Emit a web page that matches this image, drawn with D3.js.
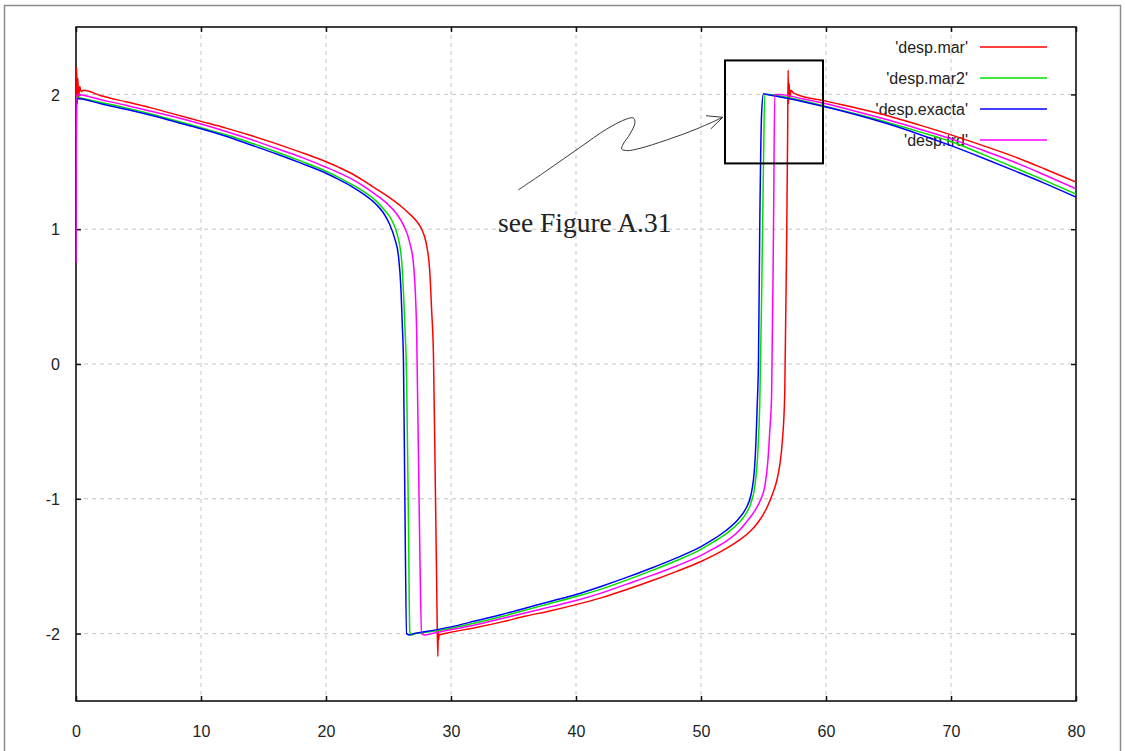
<!DOCTYPE html>
<html><head><meta charset="utf-8">
<script src="https://cdn.jsdelivr.net/npm/d3@7"></script>
<style>body{margin:0;background:#fff}svg{display:block}</style>
</head><body>
<svg id="c" width="1125" height="751"></svg>
<script>
// ---------- data ----------
const xTicks = [0, 10, 20, 30, 40, 50, 60, 70, 80];
const yTicks = [-2, -1, 0, 1, 2];
const seriesNames = ["'desp.mar'", "'desp.mar2'", "'desp.exacta'", "'desp.trd'"];
const seriesColors = ["#ff0000", "#00e000", "#0000ff", "#ff00ff"];

const despMar = [
  [0,1.95],[0.05,2.2],[0.1,1.93],[0.15,2.12],[0.2,1.97],[0.3,2.06],[0.4,2.02],[0.6,2.03],
  [2,1.99],[4,1.945],[6,1.90],[8,1.85],[10,1.80],[12,1.75],[14,1.695],[16,1.635],[18,1.57],
  [20,1.50],[21,1.46],[22,1.415],[23,1.36],[24,1.30],[25,1.24],[26,1.17],[26.6,1.12],
  [27.2,1.065],[27.6,1.01],[27.9,0.94],[28.1,0.855],[28.3,0.69],[28.45,0.40],[28.6,0.05],[28.7,-0.59],
  [28.85,-1.6],[28.9,-1.96],[28.95,-2.17],[28.97,-1.98],[29.0,-2.05],[29.05,-2.01],[30,-1.99],
  [32,-1.955],[34,-1.915],[36,-1.87],[38,-1.83],[40,-1.785],[42,-1.735],[44,-1.675],[46,-1.61],
  [48,-1.54],[50,-1.465],[51,-1.42],[52,-1.37],[53,-1.31],[53.9,-1.245],[54.6,-1.17],[55.25,-1.07],
  [55.7,-0.97],[56.05,-0.87],[56.3,-0.75],[56.5,-0.58],[56.7,-0.22],[56.85,0.9],[56.93,1.7],
  [56.97,2.18],[57.0,1.93],[57.05,2.08],[57.1,1.98],[57.2,2.03],[57.4,2.01],[60,1.95],[62.5,1.897],
  [65,1.84],[67.5,1.772],[70,1.70],[72.5,1.622],[75,1.54],[77.5,1.447],[80,1.35]
];
const despMar2 = [
  [0,1.98],[2,1.94],[4,1.90],[6,1.855],[8,1.805],[10,1.752],[12,1.70],[14,1.64],[16,1.575],
  [18,1.505],[20,1.43],[21,1.385],[22,1.335],[23,1.28],[24,1.21],[24.6,1.15],[25.3,1.06],
  [25.7,0.96],[26.05,0.77],[26.3,0.3],[26.45,-0.12],[26.6,-1.2],[26.7,-1.98],[26.8,-2.01],[27.2,-2.0],
  [28,-1.99],[30,-1.96],[32,-1.92],[34,-1.875],[36,-1.825],[38,-1.775],[40,-1.725],[42,-1.67],
  [44,-1.605],[46,-1.535],[48,-1.46],[50,-1.375],[51,-1.32],[52,-1.26],[53,-1.18],[53.6,-1.11],
  [54.0,-1.03],[54.3,-0.91],[54.55,-0.65],[54.7,-0.3],[54.85,0.5],[55.0,1.5],[55.1,2.0],[55.4,2.0],
  [57,1.975],[60,1.91],[62.5,1.852],[65,1.79],[67.5,1.722],[70,1.65],[72.5,1.557],[75,1.46],
  [77.5,1.362],[80,1.26]
];
const despExacta = [
  [0,1.10],[0.05,1.97],[2,1.93],[4,1.89],[6,1.845],[8,1.795],[10,1.745],[12,1.69],[14,1.625],
  [16,1.56],[18,1.49],[20,1.415],[21,1.37],[22,1.32],[23,1.26],[24,1.185],[24.6,1.12],[25.07,1.04],
  [25.5,0.93],[25.8,0.8],[26.0,0.55],[26.1,0.3],[26.2,0.0],[26.3,-0.92],[26.45,-2.0],[26.7,-2.01],
  [27,-2.0],[28,-1.985],[30,-1.95],[32,-1.905],[34,-1.86],[36,-1.81],[38,-1.76],[40,-1.71],
  [42,-1.65],[44,-1.585],[46,-1.515],[48,-1.44],[50,-1.355],[51,-1.30],[52,-1.235],[53,-1.15],
  [53.6,-1.07],[54.0,-0.97],[54.3,-0.75],[54.5,-0.3],[54.6,0.03],[54.7,1.015],[54.85,1.86],
  [55.0,2.005],[55.3,2.0],[57,1.97],[60,1.906],[62.5,1.847],[65,1.78],[67.5,1.703],[70,1.62],
  [72.5,1.53],[75,1.436],[77.5,1.34],[80,1.238]
];
const despTrd = [
  [0,0.75],[0.05,2.0],[2,1.96],[4,1.92],[6,1.875],[8,1.83],[10,1.78],[12,1.725],[14,1.665],
  [16,1.60],[18,1.535],[20,1.46],[21,1.42],[22,1.375],[23,1.32],[24,1.255],[25,1.18],[25.6,1.12],
  [26.2,1.03],[26.7,0.9],[27.0,0.74],[27.25,0.25],[27.5,-1.36],[27.65,-2.0],[27.9,-2.01],
  [28.5,-2.0],[30,-1.97],[32,-1.935],[34,-1.89],[36,-1.845],[38,-1.80],[40,-1.755],[42,-1.70],
  [44,-1.635],[46,-1.57],[48,-1.50],[50,-1.42],[51,-1.37],[52,-1.315],[53,-1.24],[53.65,-1.17],
  [54.3,-1.09],[54.8,-1.0],[55.1,-0.91],[55.35,-0.72],[55.5,-0.5],[55.65,-0.22],[55.8,1.0],
  [55.9,2.0],[56.3,2.0],[58,1.97],[60,1.93],[62.5,1.872],[65,1.81],[67.5,1.742],[70,1.67],
  [72.5,1.587],[75,1.50],[77.5,1.402],[80,1.30]
];
const seriesData = [despMar, despMar2, despExacta, despTrd];

// annotation (data units)
const annotationText = "see Figure A.31";
const annotationAnchor = [33.76, 0.976];
const zoomBox = {x0: 51.92, x1: 59.76, y0: 1.488, y1: 2.252};
const arrowPath = [[35.38,1.291],[37.65,1.434],[40.32,1.607],[42.46,1.743],[44.06,1.818],[44.58,1.825],
  [44.72,1.792],[44.32,1.706],[43.78,1.632],[43.66,1.595],[44.06,1.583],[45.12,1.600],[47.26,1.662],
  [49.66,1.744],[51.74,1.830]];
const arrowBarbs = [[50.40,1.842],[50.78,1.744]];

// ---------- drawing ----------
const svg = d3.select("#c");
const x = d3.scaleLinear().domain([0, 80]).range([76, 1076]);
const y = d3.scaleLinear().domain([-2.5, 2.5]).range([701, 27]);
const font = "'Liberation Sans', Arial, sans-serif";

// outer frame
svg.append("rect").attr("x", 4.5).attr("y", 5.5).attr("width", 1116).attr("height", 760)
  .attr("fill", "none").attr("stroke", "#8a8a8a").attr("stroke-width", 1.5);

// grid
svg.append("g").selectAll("line").data(xTicks.filter(d => d > 0 && d < 80)).join("line")
  .attr("x1", d => x(d)).attr("x2", d => x(d)).attr("y1", y(2.5)).attr("y2", y(-2.5))
  .attr("stroke", "#c4c4c4").attr("stroke-width", 1).attr("stroke-dasharray", "4,4");
svg.append("g").selectAll("line").data(yTicks).join("line")
  .attr("y1", d => y(d)).attr("y2", d => y(d)).attr("x1", x(0)).attr("x2", x(80))
  .attr("stroke", "#c4c4c4").attr("stroke-width", 1).attr("stroke-dasharray", "4,4");

// axes with inward ticks
const fmt = d => String(d);
const axB = d3.axisBottom(x).tickValues(xTicks).tickSize(-5).tickPadding(0).tickFormat(fmt);
const axT = d3.axisTop(x).tickValues(xTicks).tickSize(-5).tickFormat("");
const axL = d3.axisLeft(y).tickValues(yTicks).tickSize(-5).tickFormat(fmt);
const axR = d3.axisRight(y).tickValues(yTicks).tickSize(-5).tickFormat("");
function styleAxis(g) {
  g.select(".domain").remove();
  g.selectAll(".tick line").attr("stroke", "#111").attr("stroke-width", 1.5);
  g.selectAll("text").attr("fill", "#222").style("font-family", font).style("font-size", "16px");
}
const gB = svg.append("g").attr("transform", `translate(0,${y(-2.5)})`).call(axB).call(styleAxis);
gB.selectAll("text").attr("dy", null).attr("y", 36);
svg.append("g").attr("transform", `translate(0,${y(2.5)})`).call(axT).call(styleAxis);
const gL = svg.append("g").attr("transform", `translate(${x(0)},0)`).call(axL).call(styleAxis);
gL.selectAll("text").attr("x", -16).attr("dy", "0.36em");
svg.append("g").attr("transform", `translate(${x(80)},0)`).call(axR).call(styleAxis);

// plot frame
svg.append("rect").attr("x", x(0)).attr("y", y(2.5)).attr("width", x(80) - x(0)).attr("height", y(-2.5) - y(2.5))
  .attr("fill", "none").attr("stroke", "#111").attr("stroke-width", 1.6);

// legend
const leg = svg.append("g");
seriesNames.forEach((n, i) => {
  const yy = 47 + i * 31;
  leg.append("text").attr("x", 968).attr("y", yy).attr("dy", "0.35em").attr("text-anchor", "end")
    .style("font-family", font).style("font-size", "16px").attr("fill", "#222").text(n);
  leg.append("line").attr("x1", 980).attr("x2", 1047).attr("y1", yy).attr("y2", yy)
    .attr("stroke", seriesColors[i]).attr("stroke-width", 1.5);
});

// annotation
svg.append("text").attr("x", x(annotationAnchor[0])).attr("y", y(annotationAnchor[1]))
  .style("font-family", "'Liberation Serif', 'Times New Roman', serif").style("font-size", "27.5px")
  .attr("fill", "#222").text(annotationText);
const lineGen = d3.line().x(d => x(d[0])).y(d => y(d[1]));
svg.append("path").attr("d", d3.line().x(d => x(d[0])).y(d => y(d[1])).curve(d3.curveCatmullRom)(arrowPath))
  .attr("fill", "none").attr("stroke", "#222").attr("stroke-width", 0.9);
const tip = arrowPath[arrowPath.length - 1];
arrowBarbs.forEach(b => svg.append("path").attr("d", lineGen([b, tip]))
  .attr("fill", "none").attr("stroke", "#222").attr("stroke-width", 0.9));

// curves
svg.append("clipPath").attr("id", "pc").append("rect")
  .attr("x", x(0)).attr("y", y(2.5)).attr("width", x(80) - x(0)).attr("height", y(-2.5) - y(2.5));
const curveGen = d3.line().x(d => x(d[0])).y(d => y(d[1])).curve(d3.curveMonotoneX);
seriesData.forEach((d, i) => {
  svg.append("path").attr("d", curveGen(d)).attr("clip-path", "url(#pc)")
    .attr("fill", "none").attr("stroke", seriesColors[i]).attr("stroke-width", 1.5)
    .attr("stroke-linejoin", "round");
});

// zoom box
svg.append("rect").attr("x", x(zoomBox.x0)).attr("y", y(zoomBox.y1))
  .attr("width", x(zoomBox.x1) - x(zoomBox.x0)).attr("height", y(zoomBox.y0) - y(zoomBox.y1))
  .attr("fill", "none").attr("stroke", "#000").attr("stroke-width", 2);
</script>
</body></html>
